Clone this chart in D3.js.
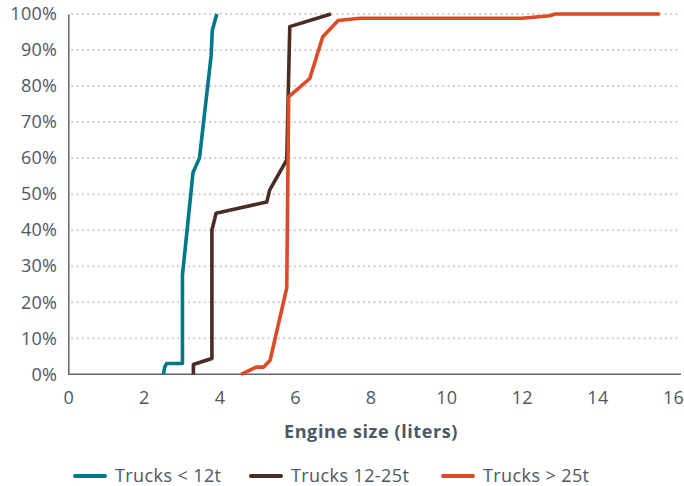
<!DOCTYPE html>
<html>
<head>
<meta charset="utf-8">
<script src="https://cdn.jsdelivr.net/npm/d3@7"></script>
<style>
  body { margin: 0; background: #fff; }
  text { font-family: "Open Sans", "Noto Sans", sans-serif; fill: #4d5862; }
</style>
</head>
<body>
<div id="chart"></div>
<script>
// engine size (liters) vs cumulative share
var smallX = [2.52, 2.55, 2.6, 3.02, 3.02, 3.3, 3.47, 3.78, 3.81, 3.93];
var smallY = [0, 0.02, 0.03, 0.03, 0.275, 0.56, 0.60, 0.885, 0.955, 1.0];

var midX = [3.31, 3.31, 3.45, 3.8, 3.8, 3.91, 4.98, 5.25, 5.33, 5.78, 5.86, 6.95];
var midY = [0, 0.027, 0.032, 0.044, 0.40, 0.447, 0.472, 0.478, 0.512, 0.595, 0.965, 1.0];

var bigX = [4.57, 4.97, 5.17, 5.34, 5.78, 5.83, 6.39, 6.73, 7.14, 7.72, 12.0, 12.74, 12.88, 15.65];
var bigY = [0, 0.02, 0.02, 0.039, 0.24, 0.77, 0.821, 0.936, 0.982, 0.988, 0.988, 0.995, 1.0, 1.0];

var seriesNames = ["Trucks < 12t", "Trucks 12-25t", "Trucks > 25t"];
var xTicks = [0, 2, 4, 6, 8, 10, 12, 14, 16];
var yTicks = [0, 0.1, 0.2, 0.3, 0.4, 0.5, 0.6, 0.7, 0.8, 0.9, 1.0];

var color = ["#00788a", "#4a2d24", "#dc4b26"];

var width = 684, height = 486;

var x = d3.scaleLinear().domain([0, 16]).range([68.3, 673]);
var y = d3.scaleLinear().domain([0, 1]).range([374.3, 14]);

var svg = d3.select("#chart").append("svg")
  .attr("width", width)
  .attr("height", height);

// dotted gridlines
svg.append("g")
  .selectAll("line")
  .data(yTicks.slice(1))
  .enter()
  .append("line")
  .attr("x1", x(0) + 3)
  .attr("x2", 681)
  .attr("y1", function(d) { return y(d); })
  .attr("y2", function(d) { return y(d); })
  .attr("stroke", "#cfcfcf")
  .attr("stroke-width", 2)
  .attr("stroke-dasharray", "2,3.3");

// y axis
var yAxis = d3.axisLeft(y)
  .tickValues(yTicks)
  .tickSize(0)
  .tickPadding(11)
  .tickFormat(d3.format(".0%"));
var gy = svg.append("g")
  .attr("transform", "translate(" + x(0) + ",0)")
  .call(yAxis);
gy.select(".domain").attr("stroke", "#5b6670").attr("stroke-width", 1.5);
gy.selectAll("text")
  .style("font-size", "18px")
  .style("letter-spacing", "0.3px")
  .attr("fill", "#4d5862");

// x axis
var xAxis = d3.axisBottom(x)
  .tickValues(xTicks)
  .tickSize(0)
  .tickPadding(17)
  .tickFormat(d3.format("d"));
var gx = svg.append("g")
  .attr("transform", "translate(0," + y(0) + ")")
  .call(xAxis);
gx.select(".domain").attr("d", "M" + x(0) + ",0H681")
  .attr("stroke", "#5b6670").attr("stroke-width", 1.5);
gx.selectAll("text")
  .style("font-size", "18px")
  .style("letter-spacing", "0.3px")
  .attr("fill", "#4d5862");

svg.append("text")
  .attr("x", 371)
  .attr("y", 438)
  .attr("text-anchor", "middle")
  .style("font-size", "18px")
  .style("font-weight", "bold")
  .style("letter-spacing", "0.6px")
  .text("Engine size (liters)");

// lines
var line = d3.line()
  .x(function(d) { return x(d[0]); })
  .y(function(d) { return y(d[1]); });

var allSeries = [d3.zip(smallX, smallY), d3.zip(midX, midY), d3.zip(bigX, bigY)];

svg.append("g")
  .selectAll("path")
  .data(allSeries)
  .enter()
  .append("path")
  .attr("d", line)
  .attr("fill", "none")
  .attr("stroke", function(d, i) { return color[i]; })
  .attr("stroke-width", 3.6)
  .attr("stroke-linejoin", "round");

// legend
var legendX = [75, 251, 443];
var legend = svg.append("g")
  .selectAll("g")
  .data(seriesNames)
  .enter()
  .append("g")
  .attr("transform", function(d, i) {
    return "translate(" + legendX[i] + ",476)";
  });

legend.append("line")
  .attr("x1", 0)
  .attr("x2", 30)
  .attr("stroke", function(d, i) { return color[i]; })
  .attr("stroke-width", 4)
  .attr("stroke-linecap", "round");

legend.append("text")
  .attr("x", 40)
  .attr("y", 6)
  .style("font-size", "18px")
  .style("letter-spacing", "0.4px")
  .text(function(d) { return d; });
</script>
</body>
</html>
